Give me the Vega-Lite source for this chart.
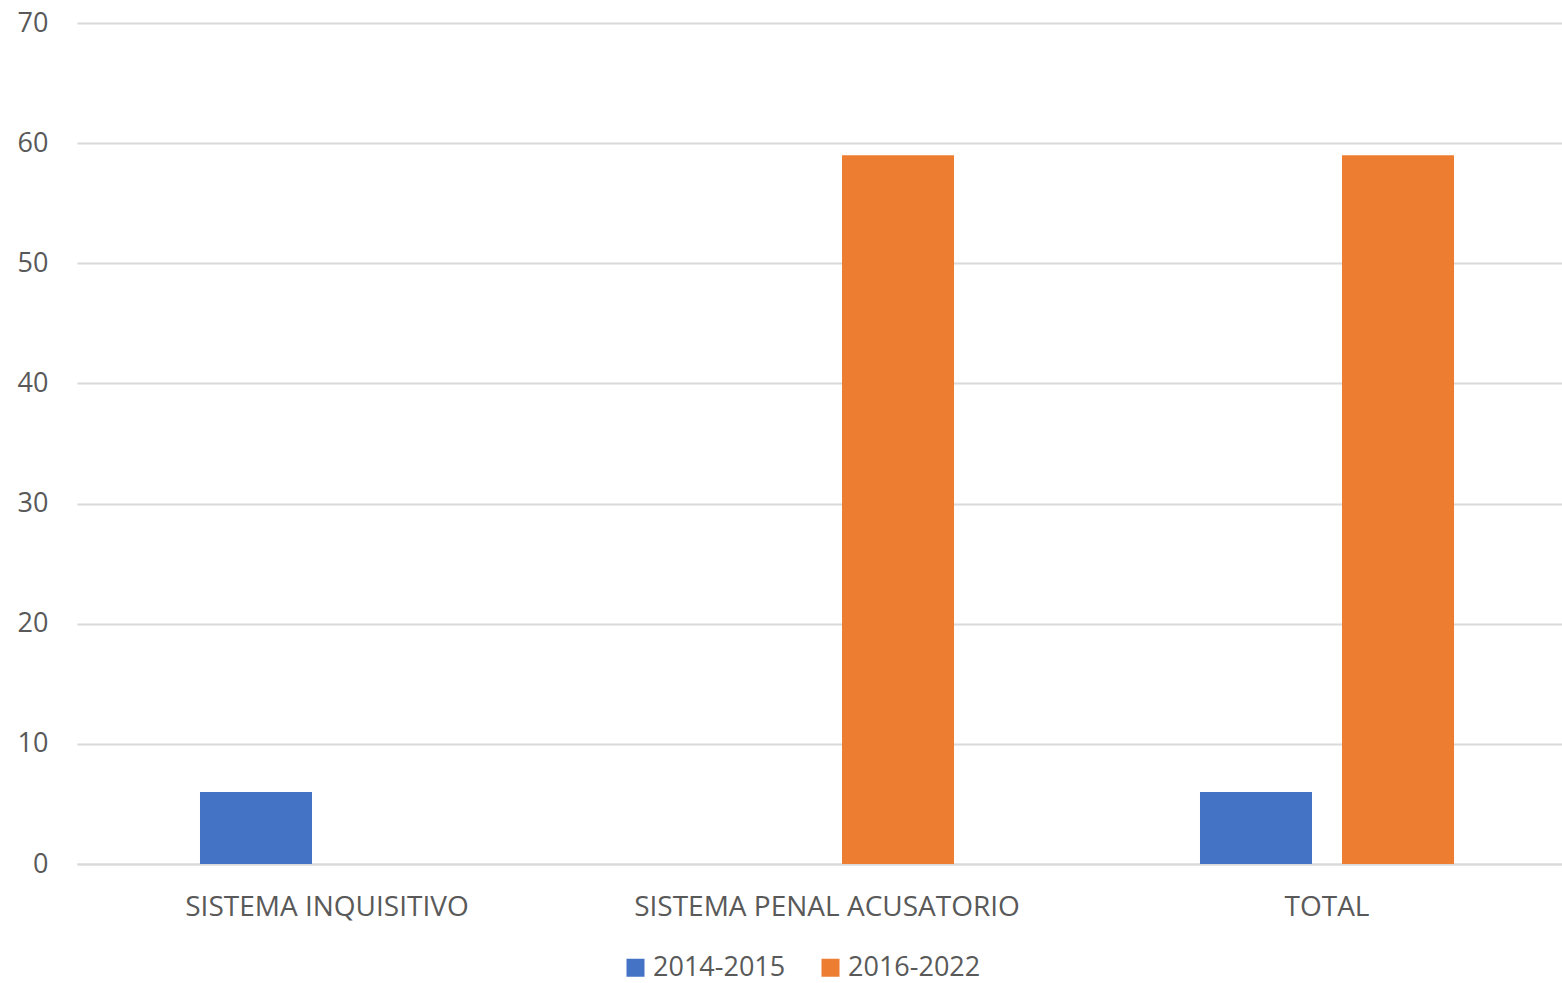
{
  "$schema": "https://vega.github.io/schema/vega-lite/v6.json",
  "width": 1484,
  "height": 841,
  "autosize": {"type": "none"},
  "padding": {"left": 78, "top": 23, "right": 0, "bottom": 119},
  "background": "white",
  "config": {
    "view": {"stroke": null},
    "font": "Open Sans",
    "axis": {"labelFont": "Open Sans", "labelColor": "#595959"},
    "legend": {"labelFont": "Open Sans", "labelColor": "#595959"}
  },
  "data": {
    "values": [
      {"categoria": "SISTEMA INQUISITIVO", "periodo": "2014-2015", "valor": 6},
      {"categoria": "SISTEMA INQUISITIVO", "periodo": "2016-2022", "valor": 0},
      {"categoria": "SISTEMA PENAL ACUSATORIO", "periodo": "2014-2015", "valor": 0},
      {"categoria": "SISTEMA PENAL ACUSATORIO", "periodo": "2016-2022", "valor": 59},
      {"categoria": "TOTAL", "periodo": "2014-2015", "valor": 6},
      {"categoria": "TOTAL", "periodo": "2016-2022", "valor": 59}
    ]
  },
  "mark": {"type": "bar"},
  "encoding": {
    "x": {
      "field": "categoria",
      "type": "nominal",
      "sort": null,
      "scale": {"paddingInner": 0, "paddingOuter": 0, "range": [-1, 1499]},
      "axis": {
        "title": null,
        "labelAngle": 0,
        "labelFontSize": 28,
        "labelLimit": 0,
        "labelPadding": 29,
        "ticks": false,
        "domain": true,
        "domainColor": "#d9d9d9",
        "domainWidth": 2
      }
    },
    "xOffset": {
      "field": "periodo",
      "type": "nominal",
      "scale": {"paddingInner": 0.2113, "paddingOuter": 0.866}
    },
    "y": {
      "field": "valor",
      "type": "quantitative",
      "scale": {"domain": [0, 70]},
      "axis": {
        "title": null,
        "values": [0, 10, 20, 30, 40, 50, 60, 70],
        "labelFontSize": 27,
        "labelPadding": 30,
        "ticks": false,
        "domain": false,
        "gridColor": "#d9d9d9",
        "gridWidth": 2
      }
    },
    "color": {
      "field": "periodo",
      "type": "nominal",
      "scale": {"domain": ["2014-2015", "2016-2022"], "range": ["#4472C4", "#ED7D31"]},
      "legend": {
        "title": null,
        "orient": "none",
        "direction": "horizontal",
        "legendX": 544,
        "legendY": 931,
        "symbolType": "square",
        "symbolSize": 324,
        "symbolStrokeWidth": 0,
        "labelFontSize": 27,
        "labelLimit": 0,
        "labelOffset": 4,
        "columnPadding": 31
      }
    }
  }
}
